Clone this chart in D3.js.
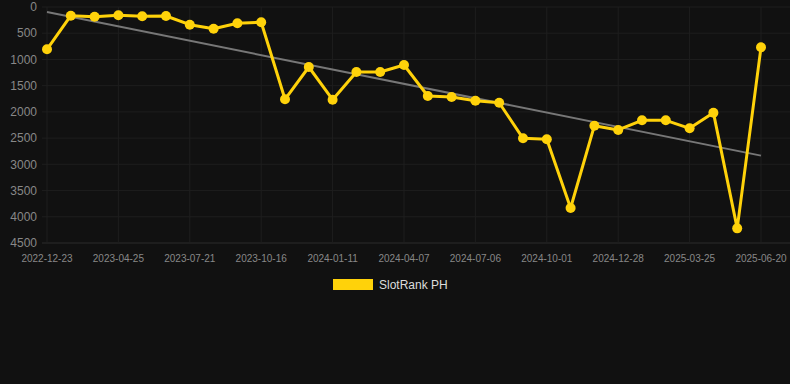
<!DOCTYPE html>
<html><head><meta charset="utf-8">
<script src="https://cdn.jsdelivr.net/npm/d3@7"></script>
<style>html,body{margin:0;padding:0;background:#111111;}svg{display:block;}</style>
</head><body>
<svg id="c" width="790" height="384"></svg>
<script>
const categories = ["2022-12-23","2023-02-03","2023-03-16","2023-04-25","2023-05-24","2023-06-22","2023-07-21","2023-08-19","2023-09-17","2023-10-16","2023-11-14","2023-12-13","2024-01-11","2024-02-09","2024-03-09","2024-04-07","2024-05-07","2024-06-06","2024-07-06","2024-08-03","2024-09-01","2024-10-01","2024-10-30","2024-11-28","2024-12-28","2025-01-26","2025-02-24","2025-03-25","2025-04-22","2025-05-21","2025-06-20"];
const rankValues = [807,166,185,158,177,172,337,414,311,292,1760,1144,1768,1240,1240,1106,1697,1716,1787,1825,2504,2523,3833,2263,2345,2161,2161,2313,2015,4221,769];
const yTicks = [0,500,1000,1500,2000,2500,3000,3500,4000,4500];
const xTickLabels = ["2022-12-23","2023-04-25","2023-07-21","2023-10-16","2024-01-11","2024-04-07","2024-07-06","2024-10-01","2024-12-28","2025-03-25","2025-06-20"];
const seriesName = "SlotRank PH";

const svg = d3.select("#c");
const W = 790;
const x = d3.scalePoint().domain(categories).range([47, 761]);
const y = d3.scaleLinear().domain([0, 4500]).range([7, 243]);

// grid
svg.append("g").selectAll("line").data(yTicks).join("line")
  .attr("x1", 42).attr("x2", W).attr("y1", d => y(d)).attr("y2", d => y(d))
  .attr("stroke", d => d === 4500 ? "#2c2c2c" : "#1e1e1e").attr("stroke-width", 1);
svg.append("g").selectAll("line").data(xTickLabels).join("line")
  .attr("x1", d => x(d)).attr("x2", d => x(d)).attr("y1", y(0)).attr("y2", y(4500))
  .attr("stroke", "#1e1e1e").attr("stroke-width", 1);

// y axis labels
svg.append("g").selectAll("text").data(yTicks).join("text")
  .attr("x", 37).attr("y", d => y(d)).attr("dy", "0.35em")
  .attr("text-anchor", "end").attr("fill", "#888888")
  .attr("font-family", "Liberation Sans, Arial, sans-serif").attr("font-size", 12)
  .text(d => d);

// x axis labels
svg.append("g").selectAll("text").data(xTickLabels).join("text")
  .attr("x", d => x(d)).attr("y", 262)
  .attr("text-anchor", "middle").attr("fill", "#888888")
  .attr("font-family", "Liberation Sans, Arial, sans-serif").attr("font-size", 10)
  .text(d => d);

// trend line (linear regression)
const n = rankValues.length;
const xs = d3.range(n);
const mx = d3.mean(xs), my = d3.mean(rankValues);
const slope = d3.sum(xs, i => (i - mx) * (rankValues[i] - my)) / d3.sum(xs, i => (i - mx) ** 2);
const icpt = my - slope * mx;
svg.append("line")
  .attr("x1", x(categories[0])).attr("y1", y(icpt))
  .attr("x2", x(categories[n - 1])).attr("y2", y(icpt + slope * (n - 1)))
  .attr("stroke", "#777777").attr("stroke-width", 2);

// series line
const line = d3.line().x((d, i) => x(categories[i])).y(d => y(d));
svg.append("path").datum(rankValues)
  .attr("d", line).attr("fill", "none")
  .attr("stroke", "#FFD20A").attr("stroke-width", 3).attr("stroke-linejoin", "round");
svg.append("g").selectAll("circle").data(rankValues).join("circle")
  .attr("cx", (d, i) => x(categories[i])).attr("cy", d => y(d)).attr("r", 5)
  .attr("fill", "#FFD20A");

// legend
svg.append("rect").attr("x", 333).attr("y", 279).attr("width", 40).attr("height", 11).attr("fill", "#FFD20A");
svg.append("text").attr("x", 379).attr("y", 285).attr("dy", "0.35em")
  .attr("fill", "#dddddd").attr("font-family", "Liberation Sans, Arial, sans-serif").attr("font-size", 12)
  .text(seriesName);
</script>
</body></html>
